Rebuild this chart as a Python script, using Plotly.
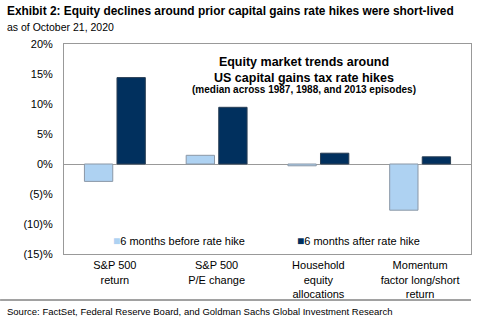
import plotly.graph_objects as go

categories = ["S&P 500<br>return", "S&P 500<br>P/E change", "Household<br>equity<br>allocations", "Momentum<br>factor long/short<br>return"]
before = [-2.9, 1.45, -0.3, -7.7]
after = [14.4, 9.45, 1.8, 1.2]
series_names = ["6 months before rate hike", "6 months after rate hike"]
series_colors = ["#AED2F2", "#01305E"]
tick_vals = [20, 15, 10, 5, 0, -5, -10, -15]
tick_text = ["20%", "15%", "10%", "5%", "0%", "(5)%", "(10)%", "(15)%"]

FONT = "Liberation Sans, Arial, sans-serif"

fig = go.Figure()
fig.add_trace(go.Bar(x=categories, y=before, name=series_names[0],
                     marker=dict(color=series_colors[0], line=dict(color="#8A97A6", width=1))))
fig.add_trace(go.Bar(x=categories, y=after, name=series_names[1],
                     marker=dict(color=series_colors[1], line=dict(color="#2A3F55", width=1))))

legend_ann = []
for name, col, xpos in zip(series_names, series_colors, [0.115, 0.567]):
    legend_ann.append(dict(
        text=f"<span style='color:{col};font-size:12px'>■</span>{name}",
        xref="paper", yref="paper", x=xpos, y=0.062, xanchor="left", yanchor="middle",
        showarrow=False, font=dict(size=11, family=FONT)))

fig.update_layout(
    width=480, height=321,
    margin=dict(l=64, r=9, t=44, b=67),
    paper_bgcolor="white", plot_bgcolor="white",
    font=dict(family=FONT, size=11, color="black"),
    barmode="group", bargap=0.36, bargroupgap=0.13,
    showlegend=False,
    xaxis=dict(showline=True, linecolor="#999999", linewidth=1, mirror=True,
               ticks="", showgrid=False, tickfont=dict(size=11), fixedrange=True,
               ticklabelstandoff=1),
    yaxis=dict(range=[-15, 20], tickvals=tick_vals, ticktext=tick_text,
               showline=True, linecolor="#999999", linewidth=1, mirror=True,
               showgrid=False, zeroline=True, zerolinecolor="#999999", zerolinewidth=1,
               ticks="", ticklabelstandoff=8, tickfont=dict(size=11)),
    annotations=[
        dict(text="<b>Exhibit 2: Equity declines around prior capital gains rate hikes were short-lived</b>",
             xref="paper", yref="paper", x=-0.145, y=1.0, xanchor="left", yanchor="bottom",
             yshift=24, showarrow=False, font=dict(size=11.9, family=FONT)),
        dict(text="as of October 21, 2020",
             xref="paper", yref="paper", x=-0.145, y=1.0, xanchor="left", yanchor="bottom",
             yshift=9, showarrow=False, font=dict(size=10.5, family=FONT)),
        dict(text="<b>Equity market trends around<br>US capital gains tax rate hikes</b>",
             xref="paper", yref="paper", x=0.59, y=0.955, xanchor="center", yanchor="top",
             showarrow=False, font=dict(size=12.5, family=FONT)),
        dict(text="<b>(median across 1987, 1988, and 2013 episodes)</b>",
             xref="paper", yref="paper", x=0.59, y=0.82, xanchor="center", yanchor="top",
             showarrow=False, font=dict(size=10, family=FONT)),
        dict(text="Source: FactSet, Federal Reserve Board, and Goldman Sachs Global Investment Research",
             xref="paper", yref="paper", x=-0.145, y=0, xanchor="left", yanchor="top",
             yshift=-50, showarrow=False, font=dict(size=9.5, family=FONT)),
    ] + legend_ann,
    shapes=[dict(type="line", xref="paper", yref="paper", x0=-0.157, x1=1.0,
                 ysizemode="pixel", yanchor=0, y0=-46, y1=-46,
                 line=dict(color="#444444", width=1))],
)

fig.write_html("out.html")
